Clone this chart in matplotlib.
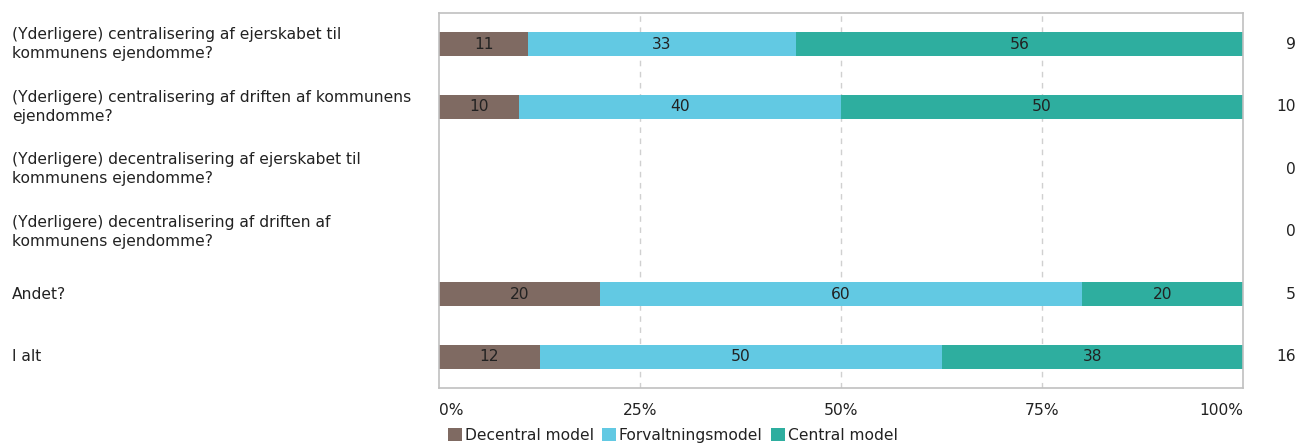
import matplotlib.pyplot as plt
import matplotlib.transforms as mtransforms
import numpy as np

categories = [
    "(Yderligere) centralisering af ejerskabet til\nkommunens ejendomme?",
    "(Yderligere) centralisering af driften af kommunens\nejendomme?",
    "(Yderligere) decentralisering af ejerskabet til\nkommunens ejendomme?",
    "(Yderligere) decentralisering af driften af\nkommunens ejendomme?",
    "Andet?",
    "I alt",
]
decentral = [11.1, 10.0, 0, 0, 20.0, 12.5]
forvaltning = [33.3, 40.0, 0, 0, 60.0, 50.0]
central = [55.6, 50.0, 0, 0, 20.0, 37.5]
n_values = [9, 10, 0, 0, 5, 16]

series = ["Decentral model", "Forvaltningsmodel", "Central model"]
colors = ["#7f6a62", "#62c9e3", "#2eae9f"]

plt.rcParams['font.family'] = ['DejaVu Sans']
FS = 11.2
W, H = 1298, 443
fig = plt.figure(figsize=(W / 100, H / 100), dpi=100)
ax = fig.add_axes([439 / W, (H - 388) / H, (1243 - 439) / W, (388 - 13) / H])

y = np.arange(len(categories))
left = np.zeros(len(categories))
handles = []
for vals, name, col in zip([decentral, forvaltning, central], series, colors):
    vals = np.array(vals, dtype=float)
    b = ax.barh(y, vals, left=left, height=0.38, color=col, label=name)
    handles.append(b)
    for yi, v, l in zip(y, vals, left):
        if v > 0:
            ax.text(l + v / 2, yi, f"{v:.0f}" if v != 12.5 else "12",
                    ha='center', va='center', fontsize=FS, color='#222222')
    left += vals

ax.set_xlim(0, 100)
ax.set_ylim(len(categories) - 0.5, -0.5)
ax.set_yticks([])
ax.set_xticks([0, 25, 50, 75, 100])
ax.set_xticklabels(["0%", "25%", "50%", "75%", "100%"], fontsize=FS, color='#222222')
for lbl, ha in zip(ax.get_xticklabels(), ['left', 'center', 'center', 'center', 'right']):
    lbl.set_ha(ha)
ax.tick_params(axis='x', length=0, pad=11)
for x in [25, 50, 75]:
    ax.axvline(x, color='#d0d0d0', linestyle=(0, (4, 4)), linewidth=1, zorder=0)
for sp in ax.spines.values():
    sp.set_color('#c0c0c0')
    sp.set_linewidth(1.2)

trans = mtransforms.blended_transform_factory(fig.transFigure, ax.transData)
for yi, cat, n in zip(y, categories, n_values):
    ax.text(12 / W, yi, cat, transform=trans, ha='left', va='center',
            fontsize=FS, color='#222222', linespacing=1.3)
    ax.text(1296 / W, yi, str(n), transform=trans, ha='right', va='center',
            fontsize=FS, color='#222222')

fig.legend(handles=handles, labels=series, loc='lower left',
           bbox_to_anchor=(434 / W, -14 / H), ncol=3, frameon=False,
           fontsize=FS, handlelength=0.9, handleheight=0.9,
           handletextpad=0.2, columnspacing=0.5, labelcolor='#222222')

fig.savefig("out.png", dpi=100)
